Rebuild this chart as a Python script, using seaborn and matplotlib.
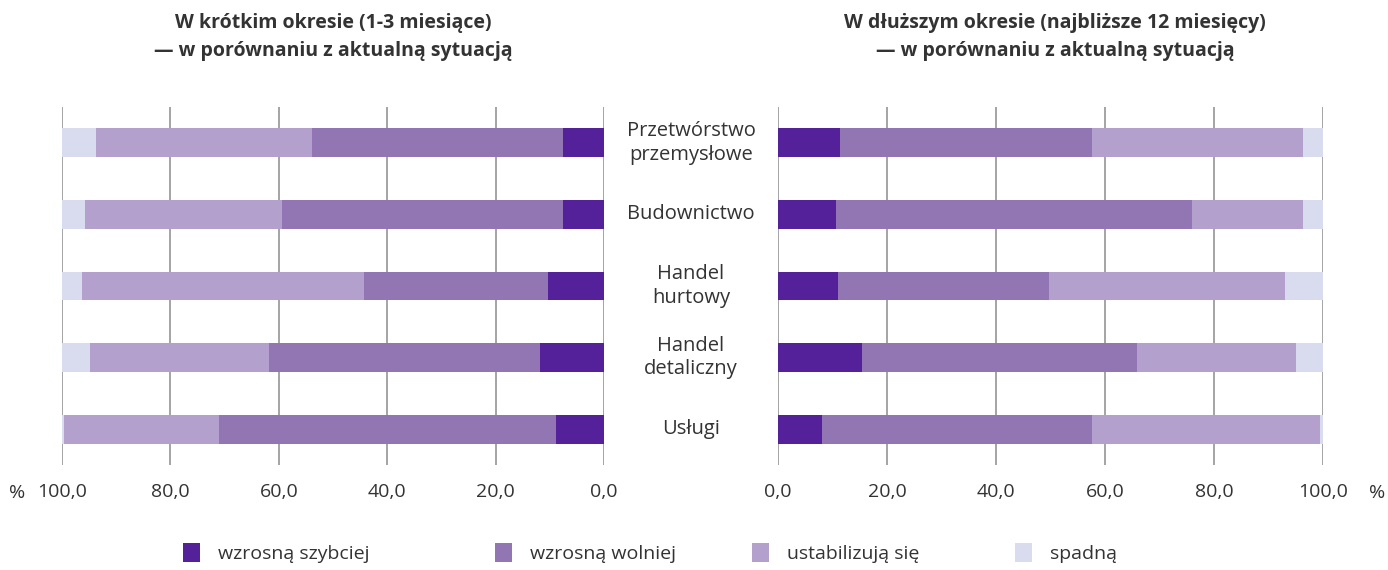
import numpy as np
import pandas as pd
import matplotlib
matplotlib.use('Agg')
import matplotlib.pyplot as plt
import matplotlib.transforms as mtransforms
from matplotlib.patches import Patch
import seaborn as sns

# Data (percent of answers)
sectors = ['Przetwórstwo\nprzemysłowe', 'Budownictwo', 'Handel\nhurtowy',
           'Handel\ndetaliczny', 'Usługi']
series_names = ['wzrosną szybciej', 'wzrosną wolniej', 'ustabilizują się', 'spadną']

short_faster = [7.5, 7.5, 10.3, 11.9, 8.9]
short_slower = [46.4, 52.0, 34.0, 50.0, 62.1]
short_stable = [39.9, 36.2, 52.1, 33.0, 28.7]
short_down = [6.2, 4.3, 3.6, 5.1, 0.3]

long_faster = [11.4, 10.7, 11.1, 15.5, 8.0]
long_slower = [46.2, 65.2, 38.7, 50.3, 49.6]
long_stable = [38.7, 20.5, 43.2, 29.2, 41.9]
long_down = [3.7, 3.6, 7.0, 5.0, 0.5]

tick_values = [0, 20, 40, 60, 80, 100]
tick_labels = ['0,0', '20,0', '40,0', '60,0', '80,0', '100,0']

colors = ['#55219a', '#9276b3', '#b3a0cd', '#d9dbef']
text_color = '#333333'
grid_color = '#8c8c8c'

sns.set_theme(style='white')
plt.rcParams['font.family'] = ['Open Sans', 'DejaVu Sans']

W, H = 1388, 570
fig = plt.figure(figsize=(W / 100, H / 100), dpi=100)
ax_top, ax_bot = 107, 465
ax_l = fig.add_axes([62 / W, 1 - ax_bot / H, (604 - 62) / W, (ax_bot - ax_top) / H])
ax_r = fig.add_axes([778 / W, 1 - ax_bot / H, (1323 - 778) / W, (ax_bot - ax_top) / H])


def stacked(ax, parts):
    df = pd.DataFrame({'sector': sectors})
    cum = np.zeros(len(sectors))
    cums = []
    for p in parts:
        cum = cum + np.array(p)
        cums.append(cum.copy())
    # draw the longest stack first, shorter ones on top
    for c, col in reversed(list(zip(cums, colors))):
        df['val'] = c
        sns.barplot(data=df, x='val', y='sector', orient='h', color=col,
                    width=0.4, saturation=1, ax=ax, linewidth=0)
    ax.set_xlim(0, 100)
    ax.set_xticks(tick_values)
    ax.set_xticklabels(tick_labels)
    ax.tick_params(axis='x', length=0, pad=13, labelsize=14, labelcolor=text_color)
    ax.set_yticks([])
    ax.set_xlabel('')
    ax.set_ylabel('')
    ax.set_axisbelow(True)
    ax.grid(axis='x', color=grid_color, linewidth=1.1)
    ax.grid(axis='y', visible=False)
    for s in ax.spines.values():
        s.set_visible(False)


stacked(ax_l, [short_faster, short_slower, short_stable, short_down])
stacked(ax_r, [long_faster, long_slower, long_stable, long_down])
ax_l.invert_xaxis()

# sector labels between the panels
trans = mtransforms.blended_transform_factory(fig.transFigure, ax_r.transData)
for i, name in enumerate(sectors):
    fig.text(691 / W, i, name, transform=trans, ha='center', va='center',
             fontsize=14.5, color=text_color, linespacing=1.25)

# percent signs
fig.text(17 / W, 1 - 493 / H, '%', ha='center', va='center', fontsize=14, color=text_color)
fig.text(1377 / W, 1 - 493 / H, '%', ha='center', va='center', fontsize=14, color=text_color)

# titles
fig.text(333 / W, 1 - 37 / H, 'W krótkim okresie (1-3 miesiące)\n— w porównaniu z aktualną sytuacją',
         ha='center', va='center', fontsize=14, fontweight='bold', color=text_color,
         linespacing=1.55)
fig.text(1055 / W, 1 - 37 / H, 'W dłuższym okresie (najbliższe 12 miesięcy)\n— w porównaniu z aktualną sytuacją',
         ha='center', va='center', fontsize=14, fontweight='bold', color=text_color,
         linespacing=1.55)

# legend, one entry at a time as in the reference spacing
legend_x = [177, 489, 746, 1009]
for name, col, x in zip(series_names, colors, legend_x):
    fig.legend([Patch(facecolor=col, edgecolor='none')], [name], loc='center left',
               bbox_to_anchor=(x / W, 1 - 553 / H), frameon=False, fontsize=14,
               handlelength=0.9, handleheight=1.15, handletextpad=0.9,
               labelcolor=text_color, borderaxespad=0, borderpad=0.3)

fig.savefig('out.png', dpi=100, facecolor='white')
